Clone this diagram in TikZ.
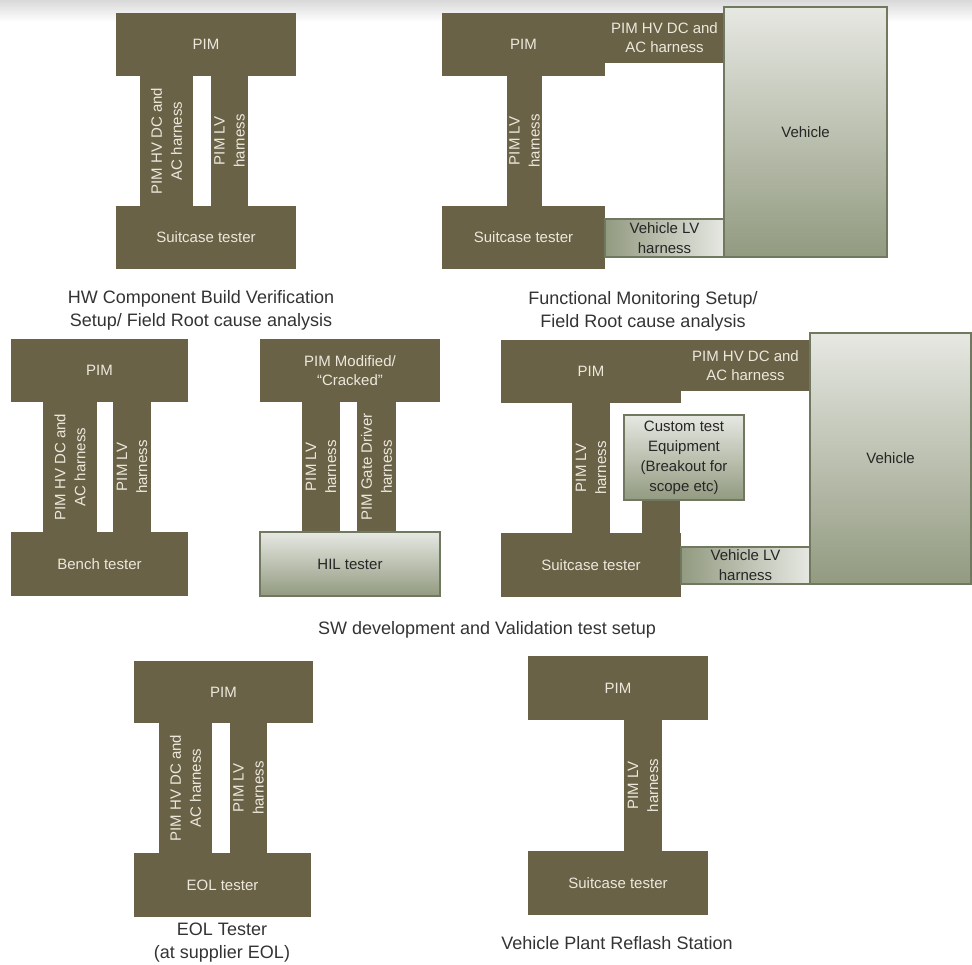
\documentclass[tikz,border=0pt]{standalone}
\usepackage{fontspec}
\setmainfont{Liberation Sans}
\usepackage{tikz}

\definecolor{brn}{RGB}{106,98,71}
\definecolor{pale}{RGB}{230,232,226}
\definecolor{sage}{RGB}{146,154,128}
\definecolor{edge}{RGB}{112,121,95}
\definecolor{txt}{RGB}{236,232,220}

\begin{document}
\begin{tikzpicture}[x=1pt, y=-1pt,
  box/.style={fill=brn, text=txt, inner sep=0pt, align=center, font=\fontsize{15}{19}\selectfont},
  harn/.style={box, rotate=90, font=\fontsize{15}{20}\selectfont},
  lite/.style={draw=edge, line width=1.2pt, top color=pale, bottom color=sage, text=black!85, inner sep=0pt, align=center, font=\fontsize{15}{20}\selectfont},
  liteh/.style={lite, left color=sage, right color=pale},
  capt/.style={text=black!80, align=center, font=\fontsize{18}{23}\selectfont}]
\useasboundingbox (0,0) rectangle (972,965);
\fill[top color=black!15, bottom color=white] (0,0) rectangle (972,22);

% HW component build verification
\node[box, minimum width=180, minimum height=63] (pimA) at (206,44.5) {PIM};
\node[harn, minimum width=130, minimum height=53] (hvA) at (166.5,141) {PIM HV DC and\\AC harness};
\node[harn, minimum width=130, minimum height=37] (lvA) at (229.5,141) {PIM LV\\harness};
\node[box, minimum width=180, minimum height=63] (tstA) at (206,237.5) {Suitcase tester};
\node[capt] (capA) at (201,310) {HW Component Build Verification\\Setup/ Field Root cause analysis};

% functional monitoring
\node[box, minimum width=163, minimum height=63] (pimB) at (523.5,44.5) {PIM};
\node[box, minimum width=119, minimum height=50] (hvB) at (664.5,38) {PIM HV DC and\\AC harness};
\node[lite, minimum width=163, minimum height=250] (vehB) at (805.5,132) {Vehicle};
\node[harn, minimum width=130, minimum height=35] (lvB) at (524.5,141) {PIM LV\\harness};
\node[box, minimum width=163, minimum height=63] (tstB) at (523.5,237.5) {Suitcase tester};
\node[liteh, minimum width=119, minimum height=38] (vlvB) at (664.5,238) {Vehicle LV\\harness};
\node[capt] (capB) at (643,311.5) {Functional Monitoring Setup/\\Field Root cause analysis};

% bench + HIL
\node[box, minimum width=177, minimum height=63] (pimC) at (99.5,370.5) {PIM};
\node[harn, minimum width=130, minimum height=54] (hvC) at (70,467) {PIM HV DC and\\AC harness};
\node[harn, minimum width=130, minimum height=38] (lvC) at (132,467) {PIM LV\\harness};
\node[box, minimum width=177, minimum height=64] (tstC) at (99.5,564) {Bench tester};

\node[box, minimum width=180, minimum height=63] (pimD) at (350,370.5) {PIM Modified/\\“Cracked”};
\node[harn, minimum width=130, minimum height=38] (lvD) at (321,467) {PIM LV\\harness};
\node[harn, minimum width=130, minimum height=39] (gdD) at (376.5,467) {PIM Gate Driver\\harness};
\node[lite, minimum width=180, minimum height=64] (hilD) at (350,564) {HIL tester};

% SW development with vehicle
\node[box, minimum width=180, minimum height=63] (pimE) at (591,371.5) {PIM};
\node[box, minimum width=129, minimum height=51] (hvE) at (745.5,365.5) {PIM HV DC and\\AC harness};
\node[lite, minimum width=161, minimum height=251] (vehE) at (890.5,458.5) {Vehicle};
\node[harn, minimum width=130, minimum height=38] (lvE) at (591,468) {PIM LV\\harness};
\node[box, minimum width=38, minimum height=33] (lnkE) at (661,516.5) {};
\node[lite, minimum width=120, minimum height=85] (cteE) at (684,457.5) {Custom test\\Equipment\\(Breakout for\\scope etc)};
\node[box, minimum width=180, minimum height=64] (tstE) at (591,565) {Suitcase tester};
\node[liteh, minimum width=129, minimum height=37] (vlvE) at (745.5,565.5) {Vehicle LV\\harness};
\node[capt] (capE) at (487,630) {SW development and Validation test setup};

% EOL
\node[box, minimum width=179, minimum height=62] (pimF) at (223.5,692) {PIM};
\node[harn, minimum width=130, minimum height=53] (hvF) at (185.5,788) {PIM HV DC and\\AC harness};
\node[harn, minimum width=130, minimum height=37] (lvF) at (248.5,788) {PIM LV\\harness};
\node[box, minimum width=177, minimum height=64] (tstF) at (222.5,885) {EOL tester};
\node[capt] (capF) at (222,942.5) {EOL Tester\\(at supplier EOL)};

% plant reflash
\node[box, minimum width=180, minimum height=64] (pimG) at (618,688) {PIM};
\node[harn, minimum width=131, minimum height=38] (lvG) at (643,785.5) {PIM LV\\harness};
\node[box, minimum width=180, minimum height=64] (tstG) at (618,883) {Suitcase tester};
\node[capt] (capG) at (617,943) {Vehicle Plant Reflash Station};
\end{tikzpicture}
\end{document}
